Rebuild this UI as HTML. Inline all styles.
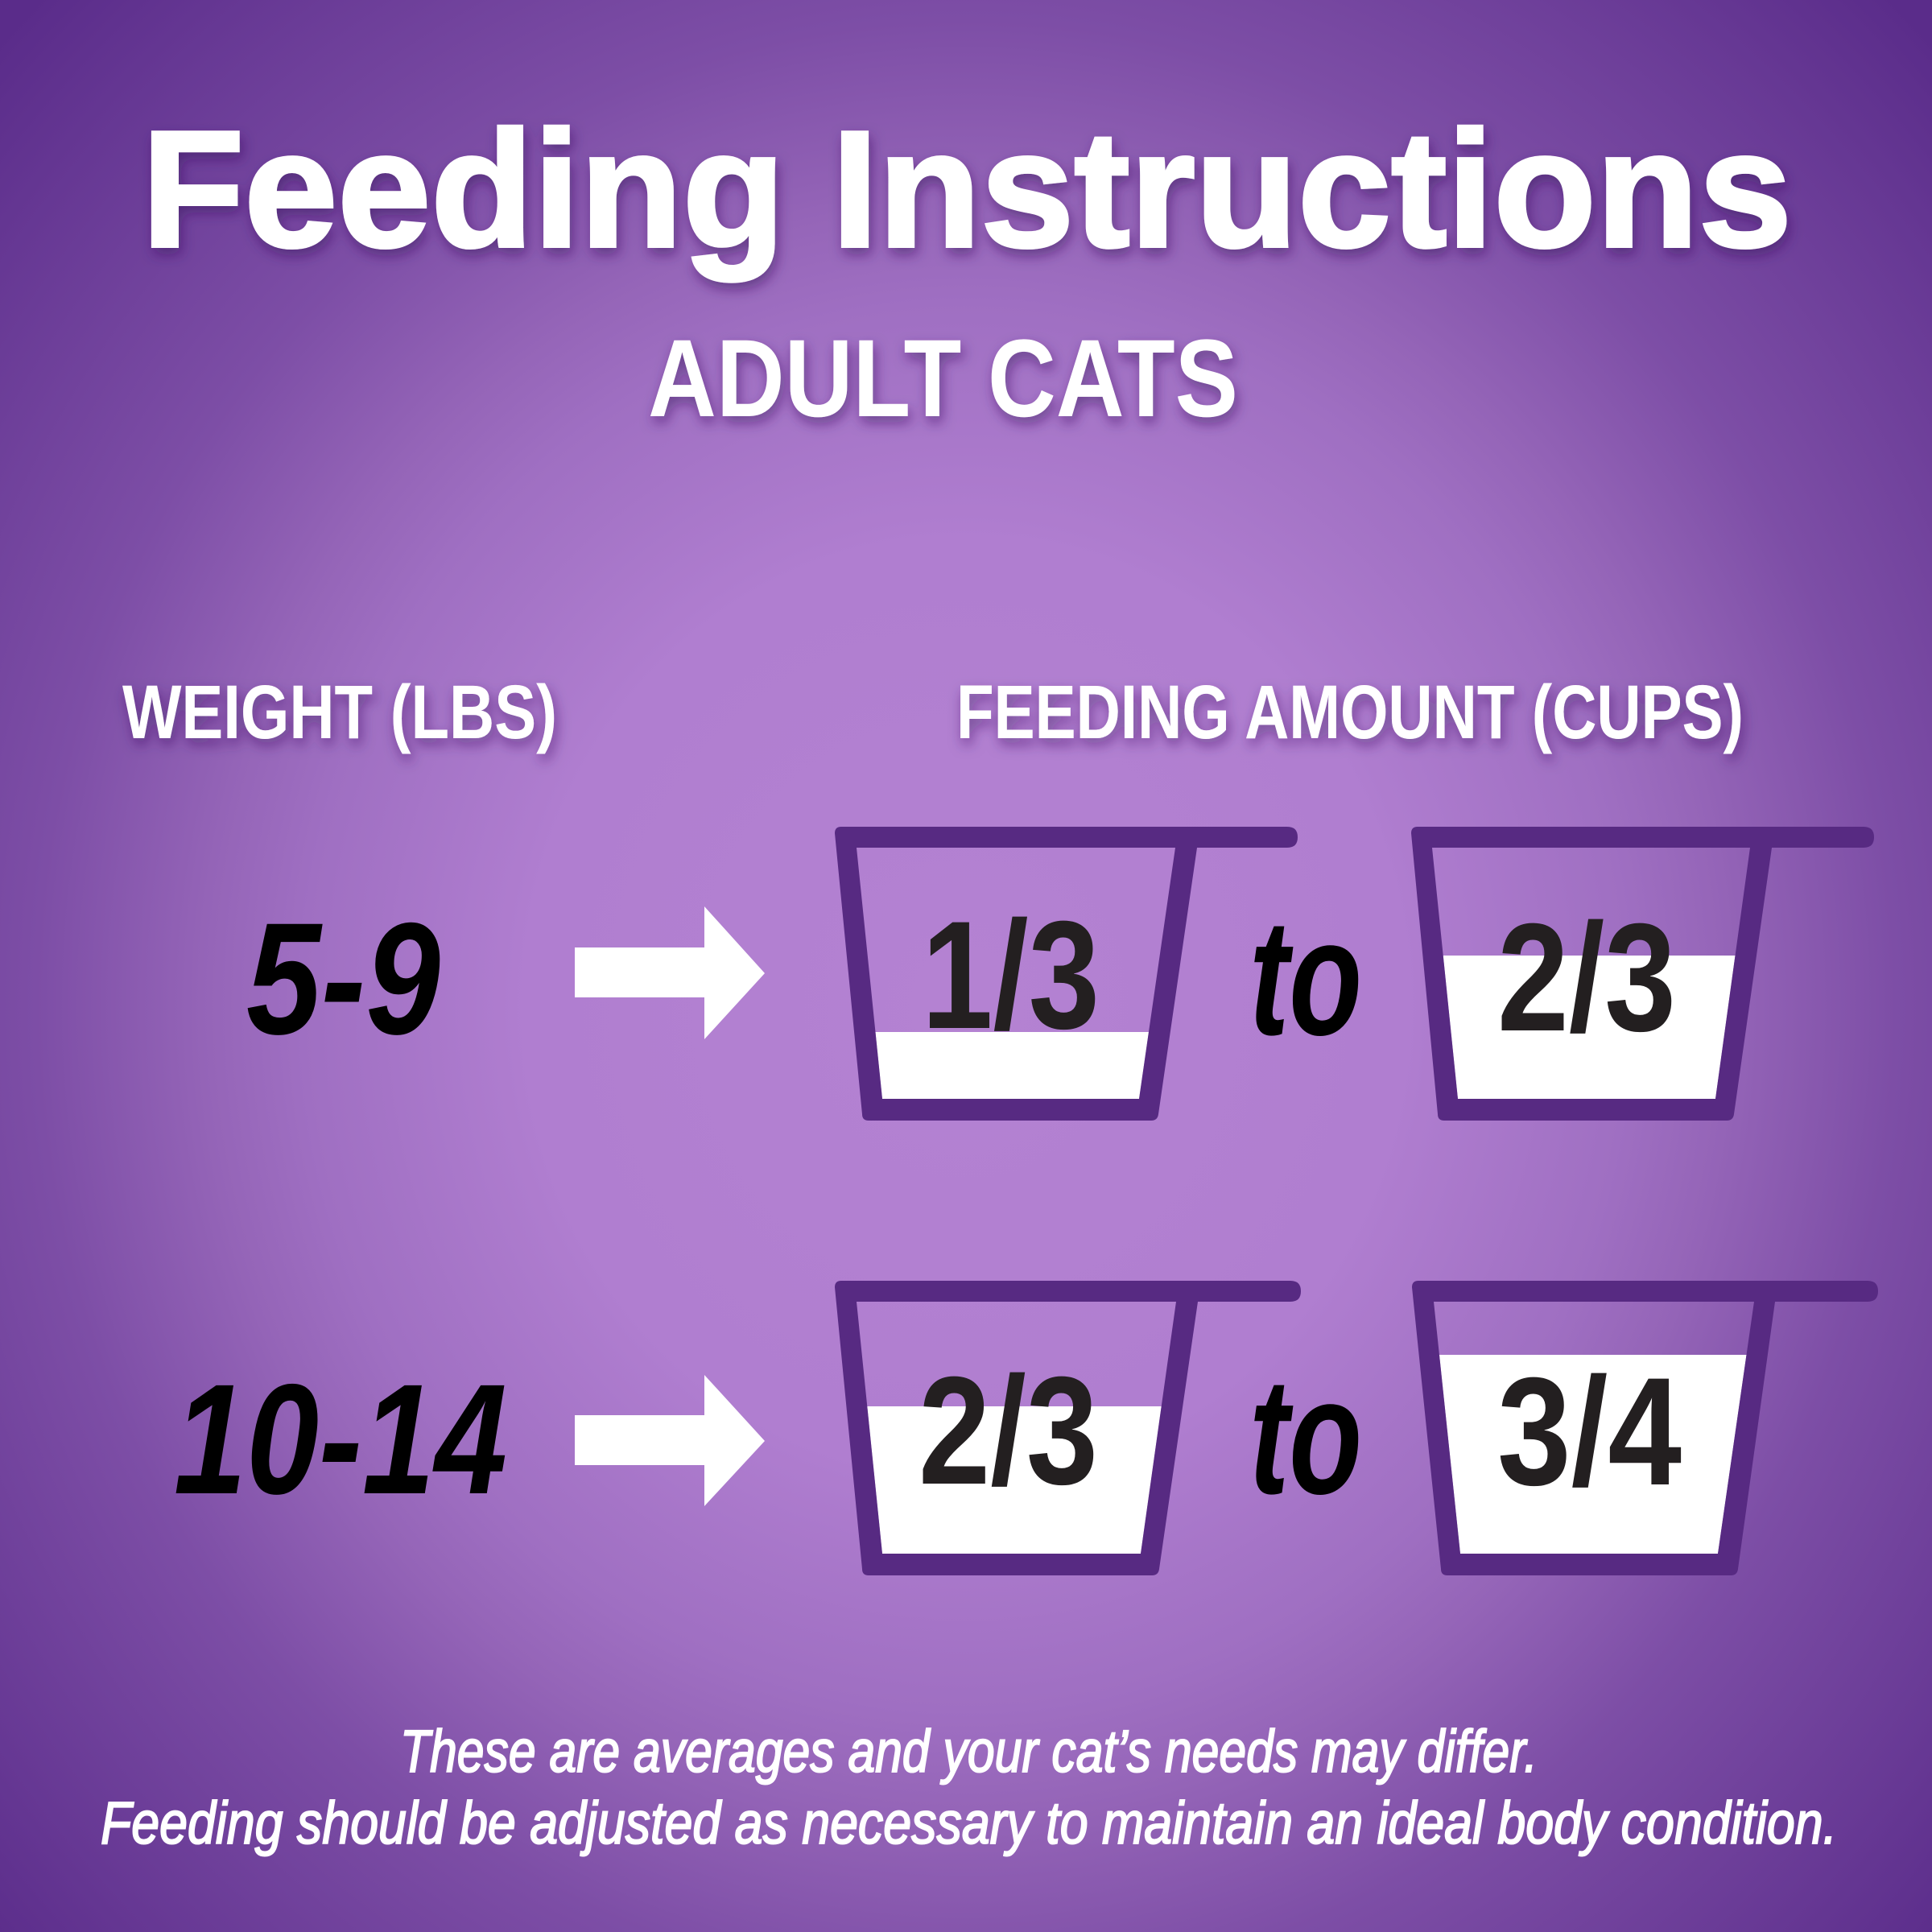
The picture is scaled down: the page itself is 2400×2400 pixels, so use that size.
<!DOCTYPE html>
<html><head><meta charset="utf-8"><style>
html,body{margin:0;padding:0;}
body{width:2400px;height:2400px;overflow:hidden;
background:radial-gradient(ellipse 1650px 1750px at 1200px 1250px,#b482d2 0%,#b07ed0 33%,#9f6fc2 50%,#9565b8 57%,#7d4ea6 70%,#5a2c8a 100%);}
svg{position:absolute;left:0;top:0;}
</style></head><body>
<svg width="2400" height="2400" viewBox="0 0 2400 2400" xmlns="http://www.w3.org/2000/svg">
<defs>
<filter id="sh" x="-10%" y="-30%" width="120%" height="160%">
<feDropShadow dx="3" dy="8" stdDeviation="8" flood-color="#3a1260" flood-opacity="0.55"/>
</filter>
</defs>

<g fill="#fff" filter="url(#sh)" font-family="'Liberation Sans', sans-serif" font-weight="bold">
<text x="176" y="306" font-size="206" textLength="2050" lengthAdjust="spacingAndGlyphs" stroke="#fff" stroke-width="4">Feeding Instructions</text>
<text x="805" y="517" font-size="137" textLength="733" lengthAdjust="spacingAndGlyphs">ADULT CATS</text>
<text x="152" y="917" font-size="95" textLength="540" lengthAdjust="spacingAndGlyphs">WEIGHT (LBS)</text>
<text x="1188" y="917" font-size="95" textLength="978" lengthAdjust="spacingAndGlyphs">FEEDING AMOUNT (CUPS)</text>
</g>

<g fill="#000" font-family="'Liberation Sans', sans-serif" font-weight="bold" font-style="italic">
<text x="306" y="1284" font-size="198" textLength="241" lengthAdjust="spacingAndGlyphs">5-9</text>
<text x="216" y="1855" font-size="195" textLength="414" lengthAdjust="spacingAndGlyphs">10-14</text>
<text x="1552" y="1285" font-size="206" textLength="140" lengthAdjust="spacingAndGlyphs">to</text>
<text x="1552" y="1855" font-size="206" textLength="140" lengthAdjust="spacingAndGlyphs">to</text>
</g>

<g fill="#fff">
<polygon points="714,1177 875,1177 875,1126 950,1209 875,1291 875,1239 714,1239"/>
<polygon points="714,1758 875,1758 875,1708 950,1790 875,1871 875,1820 714,1820"/>
<polygon points="1087.5,1282 1427,1282 1415,1365 1096,1365"/>
<polygon points="1792.7,1187 2155.5,1187 2131,1365 1811,1365"/>
<polygon points="1077.3,1747 1442.7,1747 1417,1930 1096,1930"/>
<polygon points="1788,1683 2169.5,1683 2134,1930 1814,1930"/>
</g>

<g fill="#572a82" fill-rule="evenodd">
<path d="M1037,1035 Q1037,1027 1045,1027 L1599,1027 Q1612,1027 1612,1040 Q1612,1053 1599,1053 L1487,1053 L1439,1384 Q1438,1392 1430,1392 L1079,1392 Q1071,1392 1071,1384 Z M1064,1053 L1460,1053 L1415,1365 L1096,1365 Z"/>
<path d="M1753,1035 Q1753,1027 1761,1027 L2315,1027 Q2328,1027 2328,1040 Q2328,1053 2315,1053 L2201,1053 L2154,1384 Q2153,1392 2145,1392 L1794,1392 Q1786,1392 1786,1384 Z M1779,1053 L2174,1053 L2131,1365 L1811,1365 Z"/>
<path d="M1037,1599 Q1037,1591 1045,1591 L1603,1591 Q1616,1591 1616,1604 Q1616,1617 1603,1617 L1488,1617 L1440,1949 Q1439,1957 1431,1957 L1079,1957 Q1071,1957 1071,1949 Z M1064,1617 L1461,1617 L1417,1930 L1096,1930 Z"/>
<path d="M1754,1599 Q1754,1591 1762,1591 L2320,1591 Q2333,1591 2333,1604 Q2333,1617 2320,1617 L2205,1617 L2159,1949 Q2158,1957 2150,1957 L1798,1957 Q1790,1957 1790,1949 Z M1781,1617 L2179,1617 L2134,1930 L1814,1930 Z"/>
</g>

<g fill="#231f20" font-family="'Liberation Sans', sans-serif" font-weight="bold">
<text x="1145" y="1277" font-size="191" textLength="221" lengthAdjust="spacingAndGlyphs">1/3</text>
<text x="1860" y="1280" font-size="191" textLength="222" lengthAdjust="spacingAndGlyphs">2/3</text>
<text x="1141" y="1843" font-size="191" textLength="223" lengthAdjust="spacingAndGlyphs">2/3</text>
<text x="1860" y="1844" font-size="191" textLength="229" lengthAdjust="spacingAndGlyphs">3/4</text>
</g>

<g fill="#fff" stroke="#fff" stroke-width="2" font-family="'Liberation Sans', sans-serif" font-style="italic">
<text x="497" y="2201" font-size="74" textLength="1413" lengthAdjust="spacingAndGlyphs">These are averages and your cat’s needs may differ.</text>
<text x="125" y="2290" font-size="74" textLength="2157" lengthAdjust="spacingAndGlyphs">Feeding should be adjusted as necessary to maintain an ideal body condition.</text>
</g>
</svg>
</body></html>
